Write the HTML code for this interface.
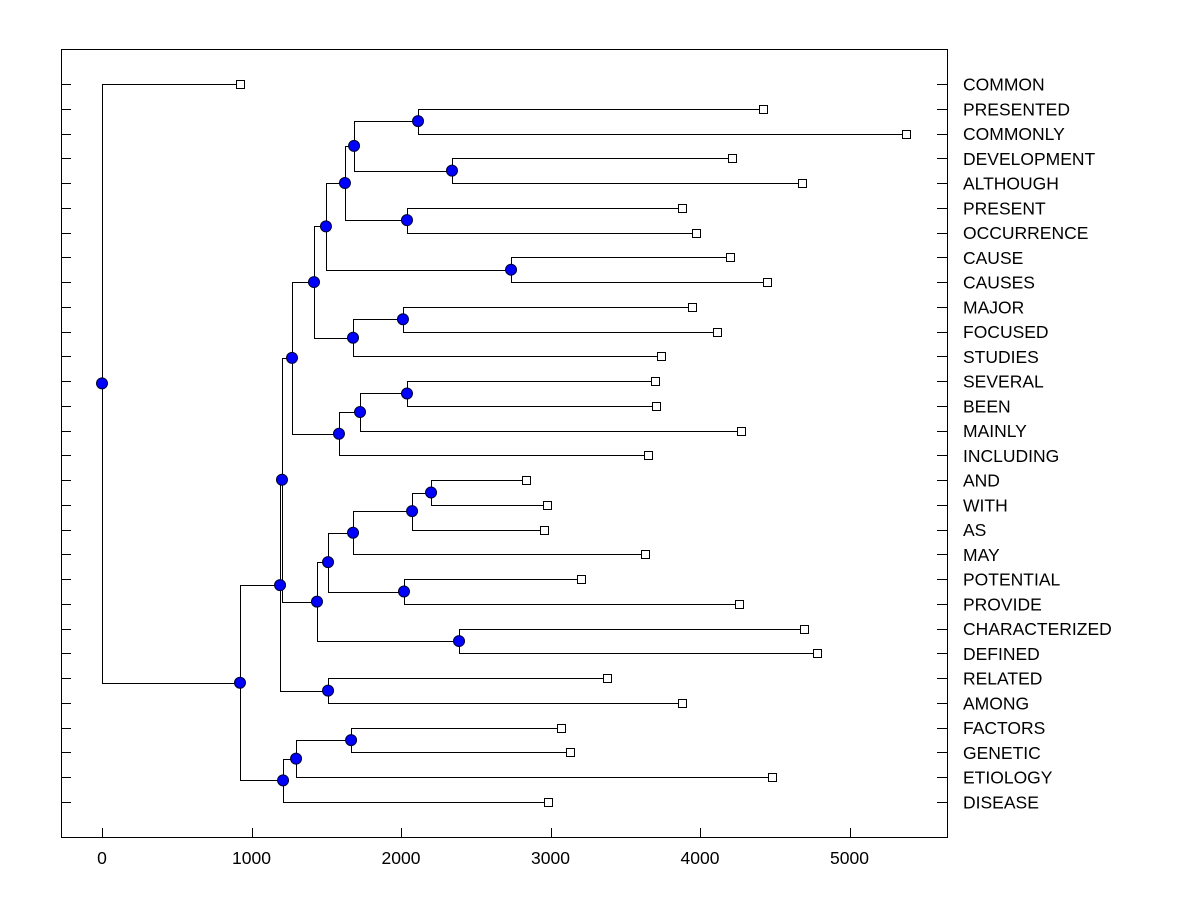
<!DOCTYPE html>
<html><head><meta charset="utf-8"><style>body{margin:0;background:#fff}svg{display:block}text{font-family:"Liberation Sans",Arial,sans-serif;font-size:17.5px;fill:#000}</style></head>
<body>
<svg id="chart" width="1200" height="900" xmlns="http://www.w3.org/2000/svg"></svg>
<script>
const labels=["COMMON","PRESENTED","COMMONLY","DEVELOPMENT","ALTHOUGH","PRESENT","OCCURRENCE","CAUSE","CAUSES","MAJOR","FOCUSED","STUDIES","SEVERAL","BEEN","MAINLY","INCLUDING","AND","WITH","AS","MAY","POTENTIAL","PROVIDE","CHARACTERIZED","DEFINED","RELATED","AMONG","FACTORS","GENETIC","ETIOLOGY","DISEASE"];
const leafValues=[923,4421,5378,4214,4682,3880,3973,4201,4448,3946,4114,3739,3699,3706,4274,3652,2836,2977,2957,3632,3204,4261,4696,4783,3378,3880,3070,3130,4482,2983];
const mergeLeft=[1,3,30,5,32,7,34,9,37,36,12,40,41,39,16,44,45,20,46,22,48,43,24,51,26,54,55,53,0];
const mergeRight=[2,4,31,6,33,8,35,10,11,38,13,14,15,42,17,18,19,21,47,23,49,50,25,52,27,28,29,56,57];
const mergeHeights=[2114,2341,1686,2040,1625,2736,1498,2013,1679,1418,2040,1726,1585,1271,2201,2074,1679,2020,1512,2388,1438,1204,1512,1191,1666,1298,1211,923,0];
const xTicks=[0,1000,2000,3000,4000,5000];

const svg=document.getElementById('chart');
const NS='http://www.w3.org/2000/svg';
const X0=102,XS=0.1495,Y0=84,YS=(802-84)/29;
const xs=v=>X0+v*XS;
const ys=i=>Y0+i*YS;
function mk(tag,attrs,parent){const e=document.createElementNS(NS,tag);for(const k in attrs)e.setAttribute(k,attrs[k]);(parent||svg).appendChild(e);return e;}

const frame=mk('rect',{x:61.5,y:49.5,width:886,height:788,fill:'none',stroke:'#000','stroke-width':1});



const n=labels.length;
const nx=[],ny=[];
for(let i=0;i<n;i++){nx.push(xs(leafValues[i]));ny.push(ys(i));}
for(let k=0;k<mergeHeights.length;k++){const a=mergeLeft[k],b=mergeRight[k];nx.push(xs(mergeHeights[k]));ny.push((ny[a]+ny[b])/2);}

for(let i=0;i<n;i++){
  const y=Math.round(ys(i))+0.5;
  const t1=mk('line',{x1:61,y1:y,x2:71,y2:y,stroke:'#000'});
  
  
  const t2=mk('line',{x1:937,y1:y,x2:947,y2:y,stroke:'#000'});
  
  
  const tx=mk('text',{x:963,y:ys(i)+6.5});
  tx.textContent=labels[i];
  
  
}
xTicks.forEach(v=>{
  const x=Math.round(xs(v))+0.5;
  const t=mk('line',{x1:x,y1:828,x2:x,y2:838,stroke:'#000'});
  
  
  const tl=mk('text',{x:xs(v),y:864,'text-anchor':'middle'});
  tl.textContent=v;
  
  
});
for(let k=0;k<mergeHeights.length;k++){
  const id=n+k,a=mergeLeft[k],b=mergeRight[k];
  const x=Math.round(nx[id])+0.5;
  const ya=Math.round(ny[a])+0.5,yb=Math.round(ny[b])+0.5;
  const p=mk('path',{d:`M${Math.round(nx[a])} ${ya}H${x}V${yb}H${Math.round(nx[b])}`,fill:'none',stroke:'#000','stroke-width':1});
  
  
}
for(let k=0;k<mergeHeights.length;k++){
  const id=n+k;
  const c=mk('circle',{cx:nx[id],cy:ny[id],r:5.5,fill:'#0000ff',stroke:'#000033','stroke-width':1});
  
  
}
for(let i=0;i<n;i++){
  const r=mk('rect',{x:Math.round(nx[i])-3.5,y:Math.round(ny[i])-3.5,width:8,height:8,fill:'#fff',stroke:'#000'});
  
  
}
</script>
</body></html>
